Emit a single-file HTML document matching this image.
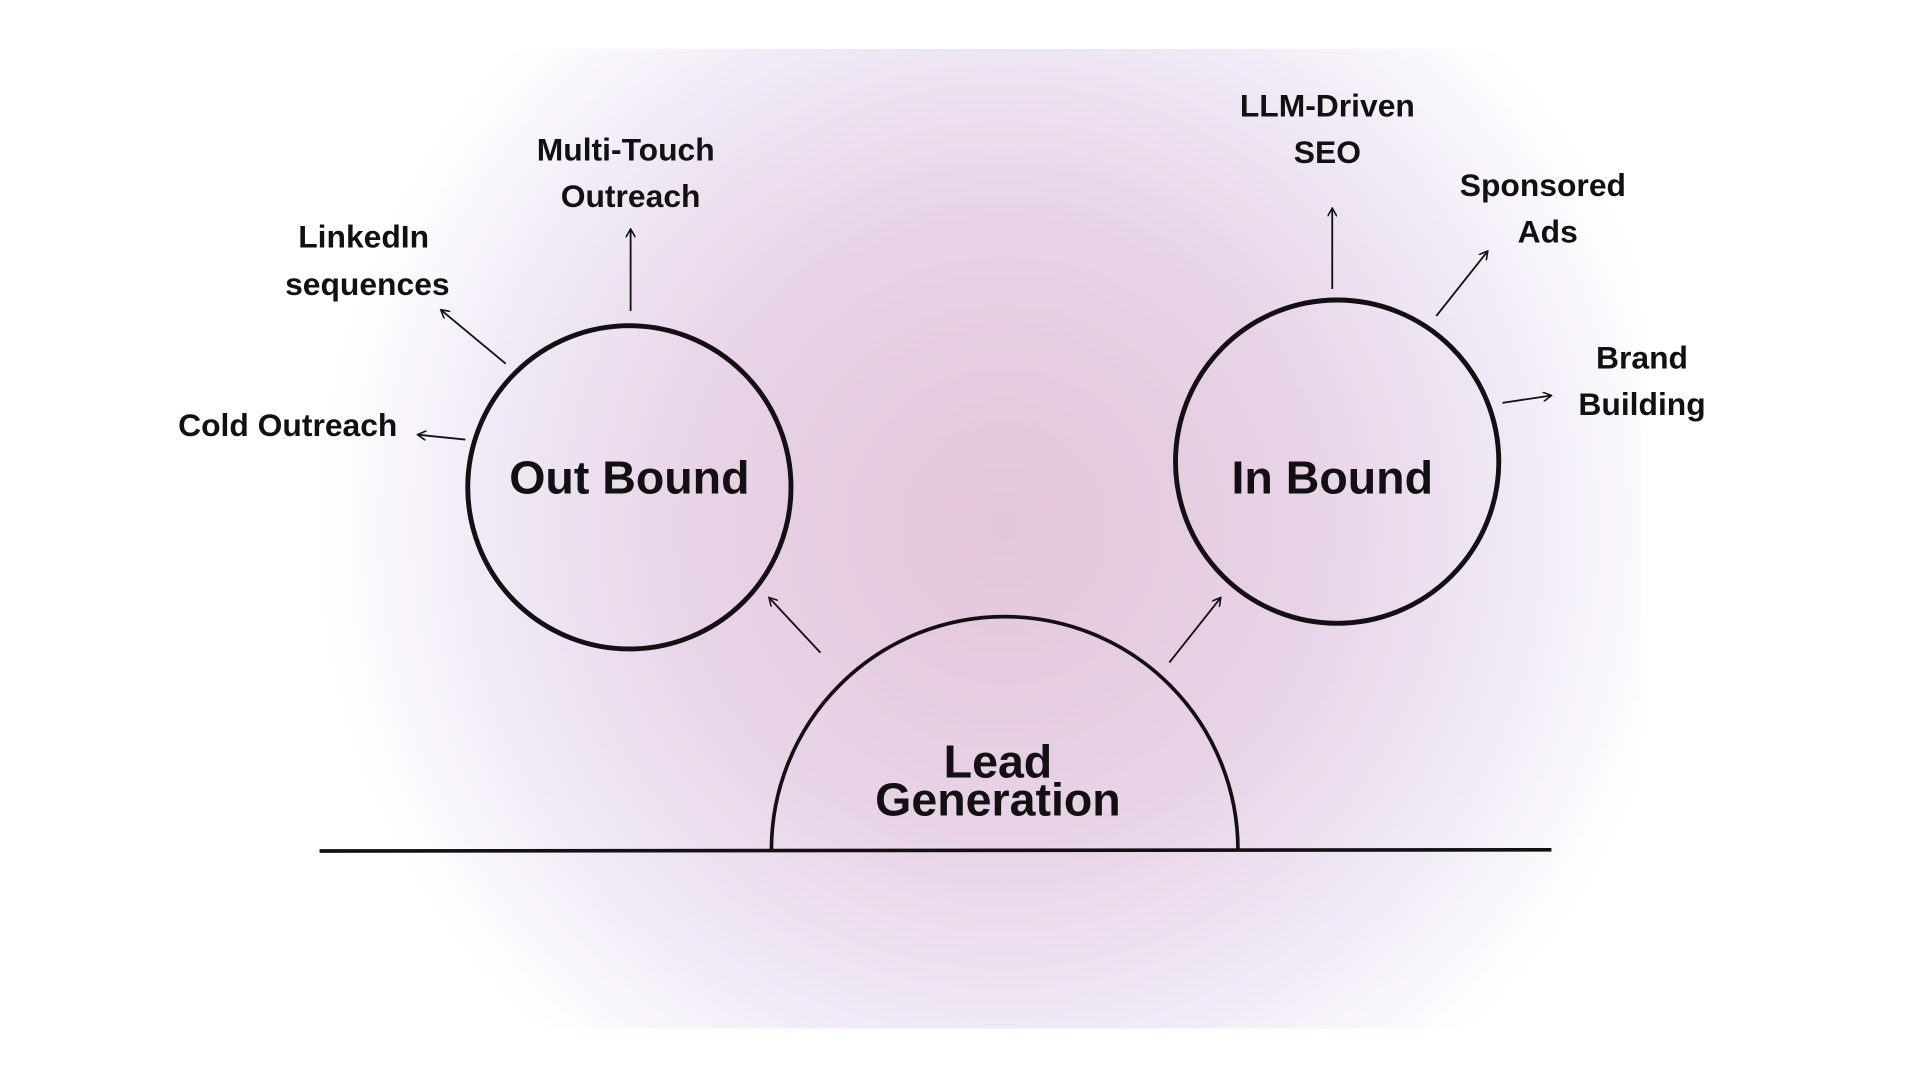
<!DOCTYPE html>
<html><head><meta charset="utf-8"><style>
html,body{margin:0;padding:0;background:#fff;}
svg{display:block;}
text{font-family:"Liberation Sans",sans-serif;font-weight:bold;fill:#111;text-anchor:middle;}
</style></head><body>
<svg width="1920" height="1080" viewBox="0 0 1568 882" preserveAspectRatio="none" xmlns="http://www.w3.org/2000/svg">
<defs>
<radialGradient id="bg" cx="820" cy="430" r="560" gradientUnits="userSpaceOnUse">
<stop offset="0" stop-color="#e4c6da"/>
<stop offset="0.45" stop-color="#e8d3e6"/>
<stop offset="0.75" stop-color="#f0e9f6"/>
<stop offset="1" stop-color="#ffffff"/>
</radialGradient>
<marker id="ah" markerWidth="8" markerHeight="8" refX="7" refY="4" orient="auto" markerUnits="userSpaceOnUse">
<path d="M0,0 L7,4 L0,8" fill="none" stroke="#111" stroke-width="1.3"/>
</marker>
</defs>
<rect width="1568" height="882" fill="#fff"/>
<rect x="240" y="40" width="1100" height="800" fill="url(#bg)"/>
<g fill="none" stroke="#111">
<circle cx="514" cy="398" r="132" stroke-width="4"/>
<circle cx="1092" cy="377" r="132" stroke-width="4"/>
<path d="M630,694 A190,190 0 0 1 1011,694" stroke-width="3"/>
<line x1="261" y1="695" x2="1267" y2="694" stroke-width="3"/>
<g stroke-width="1.5" marker-end="url(#ah)">
<line x1="380" y1="359" x2="341" y2="355"/>
<line x1="413" y1="297" x2="360" y2="253"/>
<line x1="515" y1="254" x2="515" y2="187"/>
<line x1="1088" y1="236" x2="1088" y2="170"/>
<line x1="1173" y1="258" x2="1215" y2="205"/>
<line x1="1227" y1="329" x2="1267" y2="323"/>
<line x1="670" y1="533" x2="628" y2="488"/>
<line x1="955" y1="541" x2="997" y2="488"/>
</g>
</g>
<text x="514" y="403" font-size="38">Out Bound</text>
<text x="1088" y="403" font-size="38">In Bound</text>
<text x="815" y="635" font-size="38">Lead</text>
<text x="815" y="666" font-size="38">Generation</text>
<g font-size="26">
<text x="235" y="356">Cold Outreach</text>
<text x="297" y="202">LinkedIn</text>
<text x="300" y="241">sequences</text>
<text x="511" y="131">Multi-Touch</text>
<text x="515" y="169">Outreach</text>
<text x="1084" y="95">LLM-Driven</text>
<text x="1084" y="133">SEO</text>
<text x="1260" y="160">Sponsored</text>
<text x="1264" y="198">Ads</text>
<text x="1341" y="301">Brand</text>
<text x="1341" y="339">Building</text>
</g>
</svg>
</body></html>
